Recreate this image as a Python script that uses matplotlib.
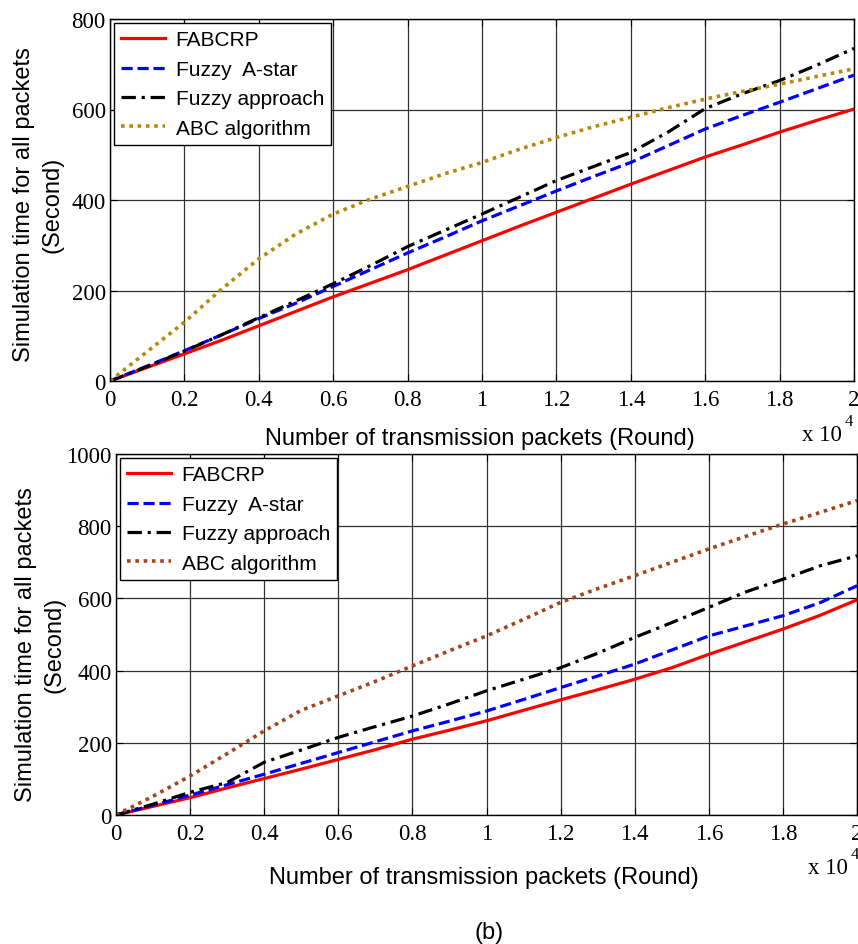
import matplotlib
matplotlib.use("Agg")
import matplotlib.pyplot as plt

# ---------------- data ----------------
x_vals = [0, 0.1, 0.2, 0.3, 0.4, 0.5, 0.6, 0.7, 0.8, 0.9, 1.0,
          1.1, 1.2, 1.3, 1.4, 1.5, 1.6, 1.7, 1.8, 1.9, 2.0]

series_names = ["FABCRP", "Fuzzy  A-star", "Fuzzy approach", "ABC algorithm"]

# panel (a)
a_fabcrp = [0, 30, 60, 90, 122, 154, 186, 216, 246, 278, 310, 342, 373, 404, 435, 465, 495, 522, 550, 576, 601]
a_astar  = [0, 33, 67, 102, 138, 172, 209, 246, 283, 318, 354, 387, 420, 452, 483, 520, 557, 587, 616, 646, 676]
a_fuzzy  = [0, 32, 66, 102, 140, 177, 215, 255, 297, 333, 369, 406, 443, 474, 505, 550, 602, 635, 664, 698, 735]
a_abc    = [0, 65, 130, 203, 270, 325, 369, 402, 430, 458, 483, 512, 538, 562, 583, 604, 623, 640, 656, 673, 690]

# panel (b)
b_fabcrp = [0, 24, 48, 75, 101, 127, 154, 181, 210, 235, 261, 290, 319, 347, 376, 408, 445, 480, 515, 553, 596]
b_astar  = [0, 27, 55, 84, 113, 143, 173, 203, 233, 260, 288, 320, 353, 385, 418, 457, 496, 524, 552, 588, 635]
b_fuzzy  = [0, 30, 63, 90, 146, 180, 215, 245, 274, 308, 344, 376, 408, 448, 492, 533, 575, 618, 653, 690, 718]
b_abc    = [0, 52, 108, 170, 233, 290, 330, 370, 413, 455, 496, 542, 589, 627, 663, 700, 737, 772, 806, 838, 871]

x_ticks = [0, 0.2, 0.4, 0.6, 0.8, 1.0, 1.2, 1.4, 1.6, 1.8, 2.0]
x_ticklabels = ["0", "0.2", "0.4", "0.6", "0.8", "1", "1.2", "1.4", "1.6", "1.8", "2"]
a_yticks = [0, 200, 400, 600, 800]
b_yticks = [0, 200, 400, 600, 800, 1000]

xlabel_text = "Number of transmission packets (Round)"
ylabel_text = "Simulation time for all packets\n(Second)"
panel_label = "(b)"

# ---------------- figure ----------------
W, H = 858, 945
fig = plt.figure(figsize=(W / 100, H / 100), dpi=100)
fig.patch.set_facecolor("white")

SANS = ["Liberation Sans", "DejaVu Sans"]
SERIF = ["Liberation Serif", "DejaVu Serif"]
TICK_FS = 16.5
LABEL_FS = 17


def px_axes(l, t, r, b):
    return [l / W, 1 - b / H, (r - l) / W, (b - t) / H]


def style_axes(ax, yticks, ymax):
    ax.set_xlim(0, 2)
    ax.set_ylim(0, ymax)
    ax.set_xticks(x_ticks)
    ax.set_xticklabels(x_ticklabels, fontfamily=SERIF, fontsize=TICK_FS)
    ax.set_yticks(yticks)
    ax.set_yticklabels([str(v) for v in yticks], fontfamily=SERIF, fontsize=TICK_FS)
    ax.tick_params(direction="in", length=5, width=0.8, top=True, right=True)
    ax.tick_params(axis="x", pad=6)
    ax.tick_params(axis="y", pad=3)
    ax.grid(True, color="0.2", linewidth=0.9, linestyle="-")
    ax.set_axisbelow(True)
    for s in ax.spines.values():
        s.set_linewidth(1.0)
        s.set_color("black")


def draw(ax, ys, abc_color):
    lw = 2.3
    ax.plot(x_vals, ys[0], color="#FF0000", linestyle="-", linewidth=lw, label=series_names[0])
    ax.plot(x_vals, ys[1], color="#0000FF", linestyle=(0, (3.5, 1.5)), linewidth=lw, label=series_names[1])
    ax.plot(x_vals, ys[2], color="black", linestyle=(0, (4.5, 1.8, 1.0, 1.8)), linewidth=lw, label=series_names[2])
    ax.plot(x_vals, ys[3], color=abc_color, linestyle=(0, (1.0, 1.3)), linewidth=lw + 0.3, label=series_names[3])
    leg = ax.legend(loc="upper left", bbox_to_anchor=(0.0, 1.0), borderaxespad=0.2,
                    prop={"family": SANS, "size": 15}, handlelength=2.1, handletextpad=0.5,
                    labelspacing=0.5, borderpad=0.35, fancybox=False, framealpha=1.0,
                    edgecolor="black")
    leg.get_frame().set_linewidth(1.0)


# top panel
ax1 = fig.add_axes(px_axes(110, 20, 854, 382))
draw(ax1, [a_fabcrp, a_astar, a_fuzzy, a_abc], "#B8860B")
style_axes(ax1, a_yticks, 800)

# bottom panel
ax2 = fig.add_axes(px_axes(116, 455, 857, 816))
draw(ax2, [b_fabcrp, b_astar, b_fuzzy, b_abc], "#A3451A")
style_axes(ax2, b_yticks, 1000)


def ftext(xp, yp, s, **kw):
    fig.text(xp / W, 1 - yp / H, s, **kw)


# axis labels
ftext(480, 439, xlabel_text, ha="center", va="center", fontfamily=SANS, fontsize=LABEL_FS)
ftext(484, 878, xlabel_text, ha="center", va="center", fontfamily=SANS, fontsize=LABEL_FS)
ftext(38, 205, ylabel_text, ha="center", va="center", rotation=90,
      fontfamily=SANS, fontsize=LABEL_FS, linespacing=1.4, multialignment="center")
ftext(40, 645, ylabel_text, ha="center", va="center", rotation=90,
      fontfamily=SANS, fontsize=LABEL_FS, linespacing=1.4, multialignment="center")

# exponent labels
ftext(802, 441, "x 10", ha="left", va="baseline", fontfamily=SERIF, fontsize=TICK_FS)
ftext(845, 426, "4", ha="left", va="baseline", fontfamily=SERIF, fontsize=12)
ftext(808, 874, "x 10", ha="left", va="baseline", fontfamily=SERIF, fontsize=TICK_FS)
ftext(851, 859, "4", ha="left", va="baseline", fontfamily=SERIF, fontsize=12)

# panel label
ftext(489, 933, panel_label, ha="center", va="center", fontfamily=SANS, fontsize=LABEL_FS)

fig.savefig("out.png", dpi=100, facecolor="white")
